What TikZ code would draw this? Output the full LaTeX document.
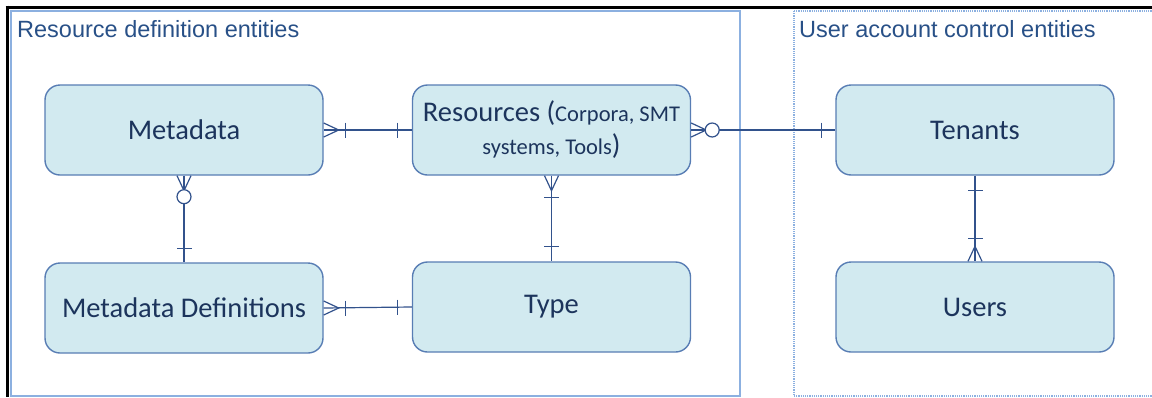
\documentclass[tikz,border=0pt]{standalone}
\usepackage{fontspec}
\setmainfont{Liberation Sans}
\newfontfamily\boxfont{Carlito}
\definecolor{boxfill}{RGB}{210,234,240}
\definecolor{boxline}{RGB}{88,125,180}
\definecolor{boxtext}{RGB}{28,52,92}
\definecolor{conncol}{RGB}{50,82,140}
\definecolor{contline}{RGB}{140,176,224}
\definecolor{titlecol}{RGB}{40,80,135}
\tikzset{
  entity/.style={draw=boxline, fill=boxfill, line width=1.4pt, rounded corners=15pt,
    minimum width=278pt, minimum height=90pt, inner sep=0pt, align=center,
    text=boxtext, font=\boxfont\fontsize{28.5}{33}\selectfont},
  conn/.style={draw=conncol, line width=1.2pt},
  title/.style={anchor=base west, inner sep=0pt, text=titlecol, font=\fontsize{23.5}{28}\selectfont},
  crow/.pic={\draw[conn] (0,-7) -- (15,0) -- (0,7);},
  tbar/.pic={\draw[conn] (0,-7.5) -- (0,7.5);},
  zcirc/.pic={\draw[conn, fill=white] (7,0) circle (7);}
}
\begin{document}
\begin{tikzpicture}[x=1pt,y=-1pt]
\useasboundingbox (0,0) rectangle (1152,397);
% outer frame
\draw[line width=3pt, black] (7,5.5) -- (7,397);
\draw[line width=3pt, black] (5.5,7) -- (1152,7);
% containers
\draw[contline, line width=1.2pt] (11,11) rectangle (740,396);
\draw[contline, line width=1.2pt, densely dotted] (794,11) -- (1160,11);
\draw[contline, line width=1.2pt, densely dotted] (794,11) -- (794,396) -- (1160,396);
\node[title] (t1) at (17,37) {Resource definition entities};
\node[title] (t2) at (799,37) {User account control entities};
% entities
\node[entity] (meta) at (184,130) {Metadata};
\node[entity] (res) at (551.5,130) {Resources ({\fontsize{22.5}{33}\selectfont Corpora, SMT}\\{\fontsize{22.5}{33}\selectfont systems, Tools})};
\node[entity] (ten) at (975,130) {Tenants};
\node[entity] (mdef) at (184,308) {Metadata Definitions};
\node[entity] (type) at (551.5,307) {Type};
\node[entity] (usr) at (975,307) {Users};
% connectors
\draw[conn] (meta.east) -- (res.west);
\path (meta.east) pic{crow} ++(22,0) pic{tbar};
\path (res.west) ++(-14,0) pic{tbar};

\draw[conn] (res.east) -- (ten.west);
\path (res.east) pic{crow} ++(14,0) pic{zcirc};
\path (ten.west) ++(-14,0) pic{tbar};

\draw[conn] (res.south) -- (type.north);
\path (res.south) pic[rotate=-90]{crow} ++(0,22) pic[rotate=-90]{tbar};
\path (type.north) ++(0,-15) pic[rotate=-90]{tbar};

\draw[conn] (meta.south) -- (mdef.north);
\path (meta.south) pic[rotate=-90]{crow} ++(0,14) pic[rotate=-90]{zcirc};
\path (mdef.north) ++(0,-14) pic[rotate=-90]{tbar};

\draw[conn] (mdef.east) -- (type.west);
\path (mdef.east) pic{crow} ++(22,0) pic{tbar};
\path (type.west) ++(-14,0) pic{tbar};

\draw[conn] (ten.south) -- (usr.north);
\path (ten.south) ++(0,15) pic[rotate=-90]{tbar};
\path (usr.north) pic[rotate=90]{crow} ++(0,-23) pic[rotate=-90]{tbar};
\end{tikzpicture}
\end{document}
